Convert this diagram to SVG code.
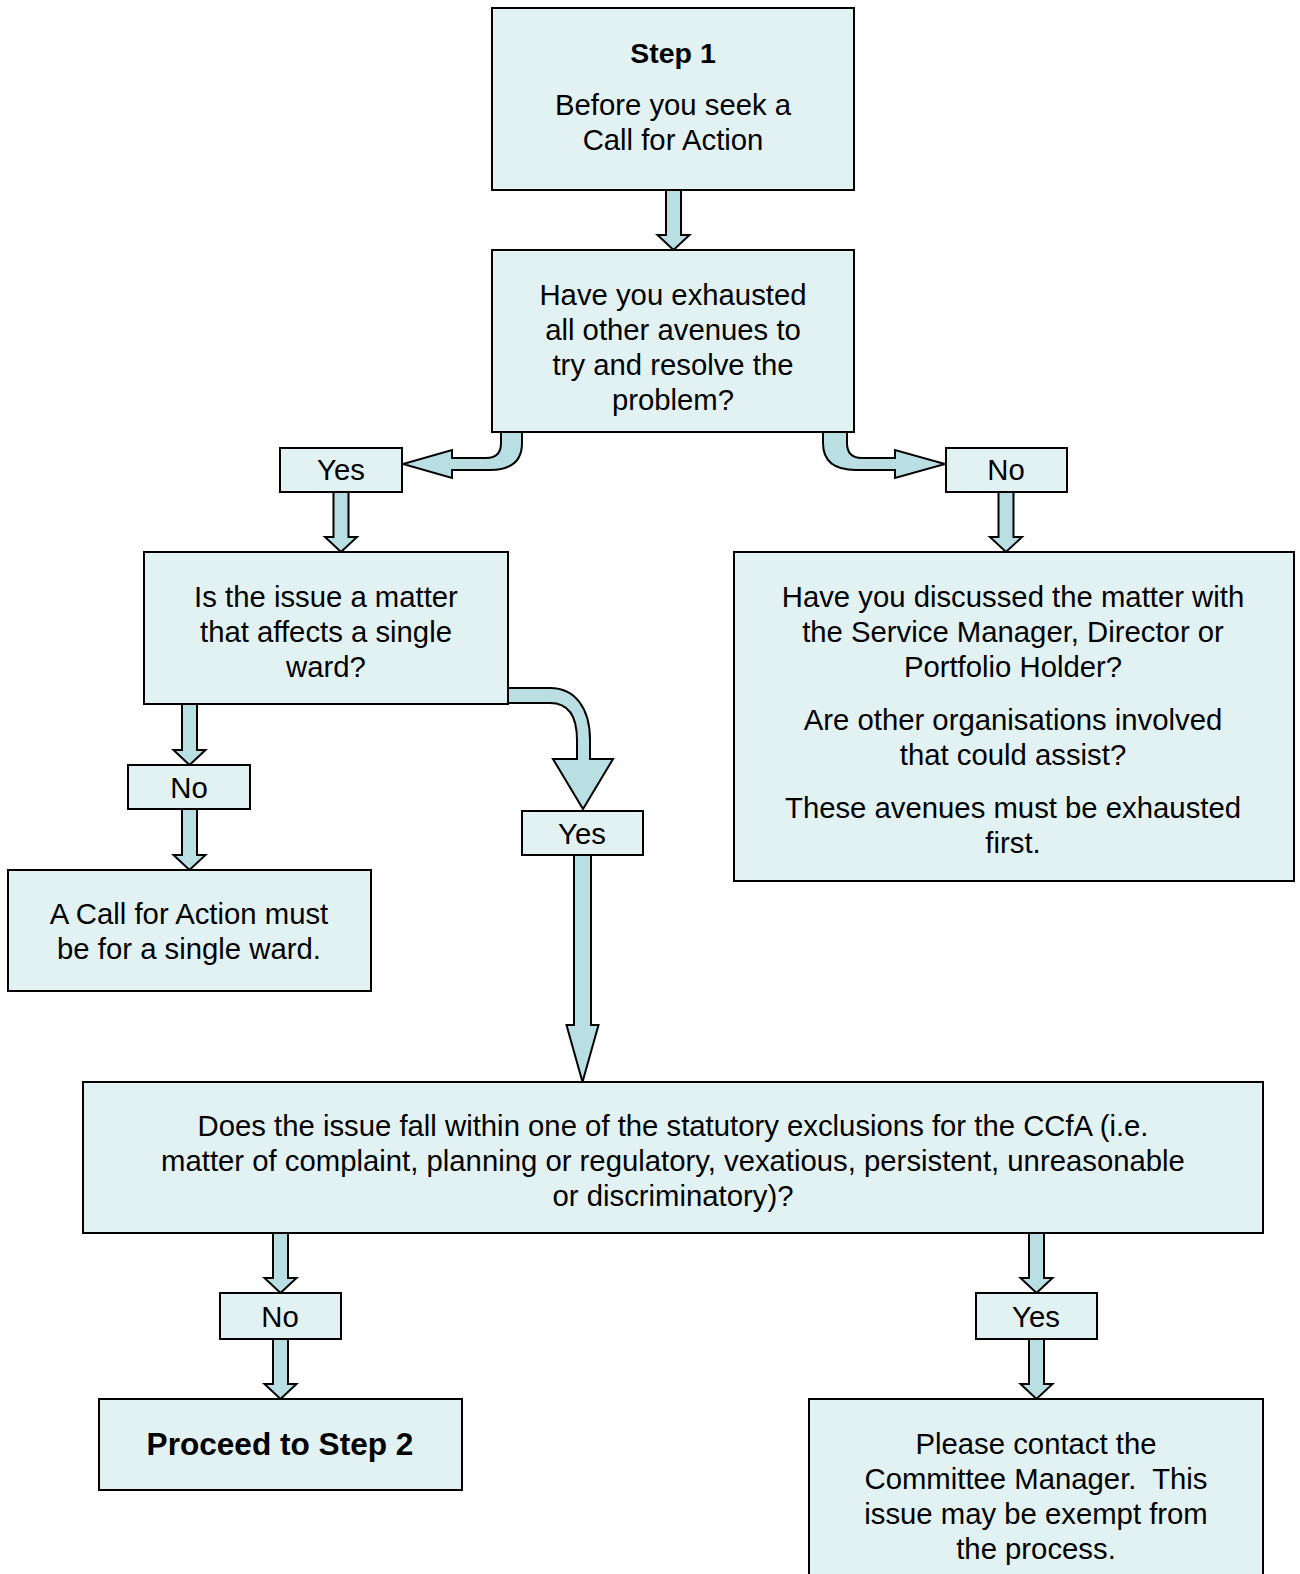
<svg xmlns="http://www.w3.org/2000/svg" width="1300" height="1574" viewBox="0 0 1300 1574">
<style>
.box{fill:#e2f2f3;stroke:#000;stroke-width:2}
.arr{fill:#b9dfe3;stroke:#000;stroke-width:2;stroke-linejoin:miter}
text{font-family:"Liberation Sans",Arial,sans-serif;font-size:29.3px;fill:#000;text-anchor:middle}
.b{font-weight:bold}
</style>
<rect width="1300" height="1574" fill="#fff"/>
<g id="connectors">
<path class="arr" d="M666 190 L681 190 L681 235 L689.5 235 L673.5 250 L657.5 235 L666 235 Z"/>
<path class="arr" d="M501 432 L501 443 Q501 458 486 458 L452 458 L452 450 L403 464 L452 478 L452 470 L490 470 Q522 470 522 443 L522 432 Z"/>
<path class="arr" d="M847 432 L847 443 Q847 458 862 458 L895 458 L895 450 L945 464 L895 478 L895 470 L856 470 Q823 470 823 443 L823 432 Z"/>
<path class="arr" d="M333.5 492 L348.5 492 L348.5 537 L357 537 L341 552 L325 537 L333.5 537 Z"/>
<path class="arr" d="M998.5 492 L1013.5 492 L1013.5 537 L1022 537 L1006 552 L990 537 L998.5 537 Z"/>
<path class="arr" d="M508 688 L550 688 C575 688 590 708 590 740 L590 759 L613 759 L583 809 L553 759 L577 759 L577 740 C577 716 568 703 550 703 L508 703 Z"/>
<path class="arr" d="M182 704 L197 704 L197 750 L205.5 750 L189.5 765 L173.5 750 L182 750 Z"/>
<path class="arr" d="M182 809 L197 809 L197 855 L205.5 855 L189.5 870 L173.5 855 L182 855 Z"/>
<path class="arr" d="M574 855 L591 855 L591 1025 L598.5 1025 L582.5 1082 L566.5 1025 L574 1025 Z"/>
<path class="arr" d="M273 1233 L288 1233 L288 1278 L296.5 1278 L280.5 1293 L264.5 1278 L273 1278 Z"/>
<path class="arr" d="M273 1339 L288 1339 L288 1384 L296.5 1384 L280.5 1399 L264.5 1384 L273 1384 Z"/>
<path class="arr" d="M1029 1233 L1044 1233 L1044 1278 L1052.5 1278 L1036.5 1293 L1020.5 1278 L1029 1278 Z"/>
<path class="arr" d="M1029 1339 L1044 1339 L1044 1384 L1052.5 1384 L1036.5 1399 L1020.5 1384 L1029 1384 Z"/>
</g>
<g id="step1">
<rect class="box" x="492" y="8" width="362" height="182"/>
<text class="b" x="673" y="63" style="font-size:28.5px">Step 1</text>
<text x="673" y="115">Before you seek a</text>
<text x="673" y="150">Call for Action</text>
</g>
<g id="q-exhausted">
<rect class="box" x="492" y="250" width="362" height="182"/>
<text x="673" y="305">Have you exhausted</text>
<text x="673" y="340">all other avenues to</text>
<text x="673" y="375">try and resolve the</text>
<text x="673" y="410">problem?</text>
</g>
<g id="yes-1">
<rect class="box" x="280" y="448" width="122" height="44"/>
<text x="341" y="480">Yes</text>
</g>
<g id="no-1">
<rect class="box" x="946" y="448" width="121" height="44"/>
<text x="1006" y="480">No</text>
</g>
<g id="q-single-ward">
<rect class="box" x="144" y="552" width="364" height="152"/>
<text x="326" y="607">Is the issue a matter</text>
<text x="326" y="642">that affects a single</text>
<text x="326" y="677">ward?</text>
</g>
<g id="discussed">
<rect class="box" x="734" y="552" width="560" height="329"/>
<text x="1013" y="607">Have you discussed the matter with</text>
<text x="1013" y="642">the Service Manager, Director or</text>
<text x="1013" y="677">Portfolio Holder?</text>
<text x="1013" y="730">Are other organisations involved</text>
<text x="1013" y="765">that could assist?</text>
<text x="1013" y="818">These avenues must be exhausted</text>
<text x="1013" y="853">first.</text>
</g>
<g id="no-2">
<rect class="box" x="128" y="765" width="122" height="44"/>
<text x="189" y="798">No</text>
</g>
<g id="yes-2">
<rect class="box" x="522" y="811" width="121" height="44"/>
<text x="582" y="844">Yes</text>
</g>
<g id="single-ward">
<rect class="box" x="8" y="870" width="363" height="121"/>
<text x="189" y="924">A Call for Action must</text>
<text x="189" y="959">be for a single ward.</text>
</g>
<g id="q-exclusions">
<rect class="box" x="83" y="1082" width="1180" height="151"/>
<text x="673" y="1136">Does the issue fall within one of the statutory exclusions for the CCfA (i.e.</text>
<text x="673" y="1171">matter of complaint, planning or regulatory, vexatious, persistent, unreasonable</text>
<text x="673" y="1206">or discriminatory)?</text>
</g>
<g id="no-3">
<rect class="box" x="220" y="1293" width="121" height="46"/>
<text x="280" y="1327">No</text>
</g>
<g id="yes-3">
<rect class="box" x="976" y="1293" width="121" height="46"/>
<text x="1036" y="1327">Yes</text>
</g>
<g id="proceed">
<rect class="box" x="99" y="1399" width="363" height="91"/>
<text class="b" x="280" y="1455" style="font-size:31.6px">Proceed to Step 2</text>
</g>
<g id="contact">
<rect class="box" x="809" y="1399" width="454" height="200"/>
<text x="1036" y="1454">Please contact the</text>
<text x="1036" y="1489" xml:space="preserve">Committee Manager.  This</text>
<text x="1036" y="1524">issue may be exempt from</text>
<text x="1036" y="1559">the process.</text>
</g>
</svg>
